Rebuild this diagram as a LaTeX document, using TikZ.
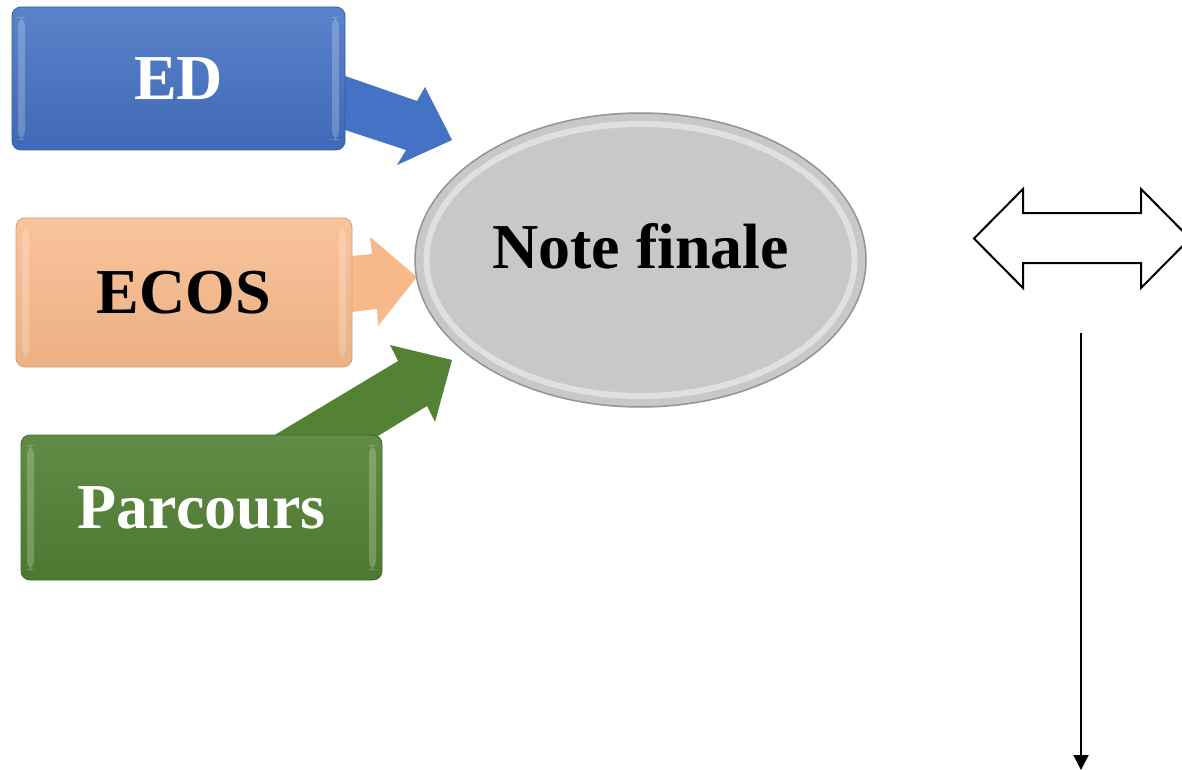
\documentclass[tikz,border=0pt]{standalone}
\usepackage{fontspec}
\setmainfont{Liberation Serif}
\usetikzlibrary{arrows.meta,shapes.geometric}

\definecolor{edblue}{HTML}{4472C4}
\definecolor{ecospeach}{HTML}{F8B98A}
\definecolor{pargreen}{HTML}{548235}
\definecolor{notegray}{HTML}{C8C8C8}

\begin{document}
\begin{tikzpicture}[x=1pt,y=-1pt,thick,
  box node/.style={rectangle,rounded corners=9pt,font=\fontsize{64}{64}\selectfont\bfseries,
    path picture={
      \fill[white,opacity=.22] ([xshift=6pt,yshift=-10pt]path picture bounding box.north west)
        rectangle ([xshift=13pt,yshift=10pt]path picture bounding box.south west);
      \fill[white,opacity=.22] ([xshift=-13pt,yshift=-10pt]path picture bounding box.north east)
        rectangle ([xshift=-6pt,yshift=10pt]path picture bounding box.south east);}},
  block arrow/.style={line join=miter}]

  \useasboundingbox (0,0) rectangle (1182,770);

  % block arrows into the note
  \fill[block arrow,edblue] (345,76) -- (417,101) -- (425,87) -- (452,140)
    -- (397,165) -- (406,150) -- (345,130) -- cycle;
  \fill[block arrow,ecospeach] (352,256) -- (372,254) -- (370,237) -- (417,277)
    -- (378,326) -- (377,309) -- (352,312) -- cycle;
  \fill[block arrow,pargreen] (273,436) -- (398,361) -- (390,345) -- (452,360)
    -- (435,422) -- (427,406) -- (378,436) -- cycle;

  \node[box node,minimum width=333pt,minimum height=143pt,draw=edblue!80!black,
    top color=edblue!88!white,bottom color=edblue!92!black,text=white]
    (ed) at (178.5,78.5) {ED};
  \node[box node,minimum width=336pt,minimum height=149pt,draw=ecospeach!85!black,
    top color=ecospeach!85!white,bottom color=ecospeach!95!black,text=black]
    (ecos) at (184,292.5) {ECOS};
  \node[box node,minimum width=361pt,minimum height=145pt,draw=pargreen!80!black,
    top color=pargreen!92!white,bottom color=pargreen!92!black,text=white]
    (parcours) at (201.5,507.5) {Parcours};

  \node[ellipse,minimum width=451pt,minimum height=294pt,fill=notegray,
    draw=gray!85,line width=1.5pt,
    path picture={\draw[white!55!notegray,line width=6pt,opacity=.8]
      (path picture bounding box.center) ellipse (214 and 136);}]
    (note) at (640.5,260) {};
  \node[font=\fontsize{64}{64}\selectfont\bfseries] (note text)
    at ([yshift=14pt]note.center) {Note finale};

  % double arrow on the right
  \draw[line width=2pt,fill=white,line join=miter] (974,238.5) -- (1023,189) -- (1023,213)
    -- (1141,213) -- (1141,189) -- (1190,238.5) -- (1141,288) -- (1141,263)
    -- (1023,263) -- (1023,288) -- cycle;

  \coordinate (down top) at (1081,333);
  \coordinate (down end) at (1081,770);
  \draw[line width=2pt,-{Triangle[width=15pt,length=15pt]}] (down top) -- (down end);

\end{tikzpicture}
\end{document}
